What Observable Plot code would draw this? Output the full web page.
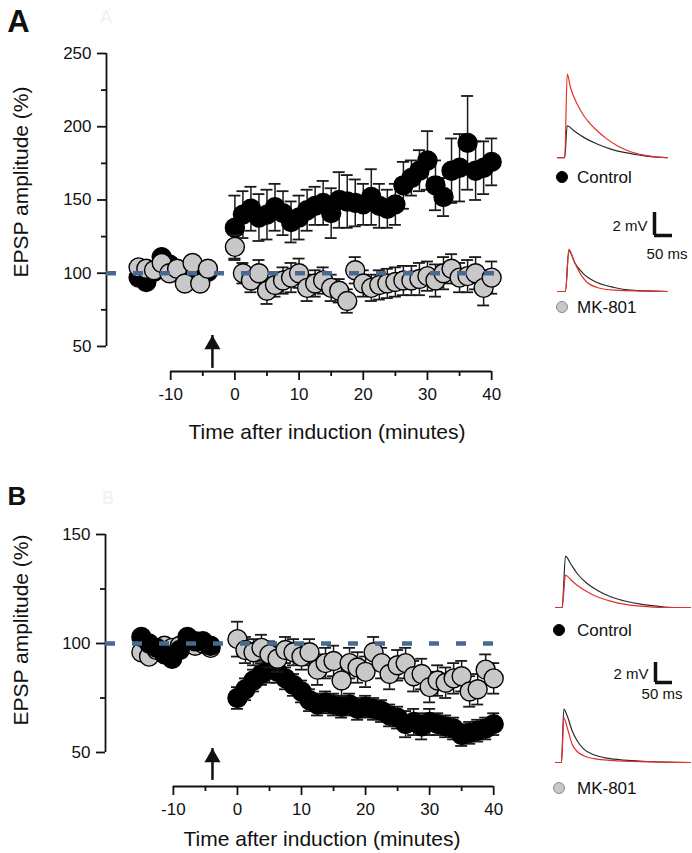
<!DOCTYPE html>
<html><head><meta charset="utf-8">
<script src="https://cdn.jsdelivr.net/npm/d3@7"></script>
<script src="https://cdn.jsdelivr.net/npm/@observablehq/plot@0.6"></script>
<style>
body{margin:0;background:#fff;}
#fig{position:relative;width:692px;height:853px;overflow:hidden;font-family:"Liberation Sans",Arial,Helvetica,sans-serif;color:#111;}
.box{position:absolute;}
.lbl{position:absolute;line-height:1;white-space:nowrap;}
</style></head><body><div id="fig"></div>
<script>
// ---------------- DATA ----------------
const baseTimes = [-15, -13.8, -12.6, -11.4, -10.2, -9, -7.8, -6.6, -5.4, -4.2];
const postTimes = [0, 1.25, 2.5, 3.75, 5, 6.25, 7.5, 8.75, 10, 11.25, 12.5, 13.75, 15, 16.25, 17.5, 18.75, 20,
  21.25, 22.5, 23.75, 25, 26.25, 27.5, 28.75, 30, 31.25, 32.5, 33.75, 35, 36.25, 37.5, 38.75, 40];

// Panel A
const ctrlA_base = [97, 94, 101, 111, 106, 102, 100, 101, 100, 101];
const ctrlA_baseErr = [3, 3, 3, 4, 3, 3, 3, 3, 3, 3];
const mkA_base = [104, 103, 102, 107, 100, 103, 93, 107, 93, 103];
const mkA_baseErr = [4, 4, 4, 4, 4, 4, 4, 4, 4, 4];
const ctrlA_post = [131, 140, 144, 138, 140, 145, 141, 135, 138, 143, 146, 148, 141, 150, 149, 148, 147,
  152, 146, 144, 147, 160, 165, 170, 177, 160, 152, 170, 172, 189, 170, 172, 176];
const ctrlA_postErr = [22, 16, 15, 16, 17, 16, 15, 14, 15, 14, 13, 15, 17, 19, 18, 16, 14,
  19, 15, 13, 14, 16, 12, 14, 20, 17, 13, 22, 23, 32, 20, 18, 16];
const mkA_post = [118, 100, 95, 100, 88, 92, 95, 97, 100, 90, 93, 95, 90, 88, 81, 102, 93,
  90, 92, 93, 94, 95, 95, 96, 98, 95, 100, 103, 97, 98, 100, 90, 97];
const mkA_postErr = [8, 7, 8, 9, 9, 8, 9, 10, 10, 9, 9, 9, 9, 8, 8, 9, 9,
  9, 10, 10, 10, 10, 10, 11, 10, 11, 11, 10, 10, 11, 11, 12, 11];

// Panel B
const ctrlB_base = [103, 100, 98, 95, 93, 97, 103, 101, 101, 99];
const ctrlB_baseErr = [3, 3, 3, 3, 3, 3, 3, 3, 3, 3];
const mkB_base = [96, 94, 97, 99, 98, 99, 100, 99, 100, 98];
const mkB_baseErr = [3, 3, 3, 3, 3, 3, 3, 3, 3, 3];
const ctrlB_post = [75, 79, 83, 86, 88, 87, 84, 81, 78, 74, 72, 73, 72, 71, 72, 70, 71,
  70, 69, 67, 66, 63, 64, 62, 64, 63, 62, 61, 58, 59, 60, 61, 63];
const ctrlB_postErr = [5, 5, 5, 5, 6, 5, 5, 5, 5, 5, 5, 5, 5, 5, 5, 5, 5,
  5, 5, 5, 5, 6, 6, 6, 6, 5, 5, 5, 5, 5, 5, 5, 5];
const mkB_post = [102, 97, 96, 98, 95, 93, 97, 96, 94, 96, 88, 91, 92, 83, 91, 89, 87,
  96, 91, 86, 90, 91, 85, 86, 80, 83, 82, 84, 85, 78, 79, 88, 84];
const mkB_postErr = [8, 6, 6, 6, 6, 6, 6, 6, 6, 6, 7, 7, 7, 7, 7, 7, 7,
  7, 7, 7, 7, 7, 7, 7, 7, 7, 7, 7, 7, 7, 7, 7, 7];

// Axes ticks / reference
const xTicks = [-10, 0, 10, 20, 30, 40];
const xMinor = [-5, 5, 15, 25, 35];
const yTicksA = [50, 100, 150, 200, 250];
const yMinorA = [75, 125, 175, 225];
const yTicksB = [50, 100, 150];
const yMinorB = [75, 125];
const baselinePct = [100];
const inductionA = [{t: -3.5, base: 35, tip: 57.5}];
const inductionB = [{t: -3.9, base: 37.2, tip: 51.8}];

// Example traces (ms, mV)
const trA_ctrl_black = {ms: [0, 20, 26.9, 45.4, 73, 110, 148, 185, 222, 258, 305], mv: [0, 0, 2.78, 2.35, 1.77, 1.19, 0.75, 0.46, 0.26, 0.09, 0]};
const trA_ctrl_red = {ms: [0, 20, 27, 36, 54.6, 73, 91.7, 110, 138, 166, 203, 240, 277, 305], mv: [0, 0, 7.28, 6.11, 4.67, 3.65, 2.93, 2.35, 1.62, 1.04, 0.52, 0.23, 0.06, 0]};
const trA_mk_black = {ms: [0, 22, 31.5, 50, 73, 110, 157, 203, 305], mv: [0, 0, 3.54, 2.38, 1.51, 0.78, 0.35, 0.12, 0]};
const trA_mk_red = {ms: [0, 22, 31.5, 45.4, 64, 82.4, 110, 157, 305], mv: [0, 0, 3.68, 2.67, 1.51, 0.78, 0.35, 0.12, 0]};
const trB_ctrl_black = {ms: [0, 19.6, 29.4, 44, 63.7, 93, 122.5, 162, 201, 250, 299, 348, 397], mv: [0, 0, 5.13, 4.4, 3.4, 2.4, 1.73, 1.07, 0.67, 0.33, 0.13, 0, 0]};
const trB_ctrl_red = {ms: [0, 19.6, 29.4, 44, 63.7, 93, 122.5, 162, 201, 250, 319, 397], mv: [0, 0, 3.23, 2.8, 2.23, 1.57, 1.07, 0.63, 0.33, 0.13, 0, 0]};
const trB_mk_black = {ms: [0, 17.6, 24.5, 34.3, 49, 63.7, 83.3, 113, 152, 201, 270, 397], mv: [0, 0, 5.33, 4.67, 3.17, 2.17, 1.33, 0.77, 0.43, 0.23, 0.1, 0]};
const trB_mk_red = {ms: [0, 17.6, 24.5, 34.3, 49, 63.7, 83.3, 122.5, 181, 397], mv: [0, 0, 4.5, 3.5, 1.83, 1.1, 0.67, 0.33, 0.17, 0]};
const scaleBar = {ms: [0, 50], mv: [0, 2]};

// ---------------- DRAWING ----------------
const FONT = "'Liberation Sans', Arial, Helvetica, sans-serif";
const fig = document.getElementById("fig");
const rows = (times, vals, errs) => times.map((t, i) => ({t, v: vals[i], e: errs[i]}));

function addBox(node, left, top) {
  const d = document.createElement("div");
  d.className = "box";
  d.style.left = left + "px";
  d.style.top = top + "px";
  d.appendChild(node);
  fig.appendChild(d);
}
function label(str, x, y, o = {}) {
  const d = document.createElement("div");
  d.className = "lbl";
  d.textContent = str;
  d.style.left = x + "px";
  d.style.top = y + "px";
  d.style.fontSize = (o.size || 17) + "px";
  d.style.fontWeight = o.weight || "normal";
  d.style.color = o.color || "#111";
  const tx = o.anchor === "start" ? "0" : "-50%";
  d.style.transform = `translate(${tx},-50%)` + (o.rotate ? ` rotate(${o.rotate}deg)` : "");
  fig.appendChild(d);
}
function legendDot(x, y, fill, stroke) {
  const d = document.createElement("div");
  d.style.cssText = `position:absolute;left:${x - 6}px;top:${y - 6}px;width:12px;height:12px;border-radius:50%;box-sizing:border-box;background:${fill};border:1px solid ${stroke};`;
  fig.appendChild(d);
}

function mainPanel(p) {
  const plotW = p.width - p.marginLeft - p.marginRight;
  const pxPerMin = plotW / (p.xDomain[1] - p.xDomain[0]);
  const cap = 6 / pxPerMin;
  const marks = [];
  for (const layer of p.layers) {
    const r = layer.rows;
    marks.push(
      Plot.ruleX(r, {x: "t", y1: d => d.v - d.e, y2: d => d.v + d.e, stroke: "#1a1a1a", strokeWidth: 1.5}),
      Plot.ruleY(r, {y: d => d.v + d.e, x1: d => d.t - cap, x2: d => d.t + cap, stroke: "#1a1a1a", strokeWidth: 1.8}),
      Plot.ruleY(r, {y: d => d.v - d.e, x1: d => d.t - cap, x2: d => d.t + cap, stroke: "#1a1a1a", strokeWidth: 1.8}),
      Plot.dot(r, {x: "t", y: "v", r: 9.5, fill: layer.fill, stroke: "#000", strokeWidth: 1.4})
    );
  }
  const yT = p.yTicks;
  marks.push(
    Plot.ruleX([p.xDomain[0]], {y1: () => yT[0], y2: () => yT[yT.length - 1], stroke: "#111", strokeWidth: 1.8}),
    Plot.ruleY([p.yDomain[0]], {x1: () => xTicks[0], x2: () => xTicks[xTicks.length - 1], stroke: "#111", strokeWidth: 1.8}),
    Plot.axisY(yT, {tickSize: 9, tickPadding: 6, tickFormat: d => String(d), strokeWidth: 1.8, label: null}),
    Plot.axisY(p.yMinor, {tickSize: 5, tickFormat: () => "", strokeWidth: 1.8, label: null}),
    Plot.axisX(xTicks, {tickSize: 9, tickPadding: 7, tickFormat: d => String(d), strokeWidth: 1.8, label: null}),
    Plot.axisX(xMinor, {tickSize: 5, tickFormat: () => "", strokeWidth: 1.8, label: null}),
    Plot.ruleX(p.arrow, {x: "t", y1: "base", y2: "tip", stroke: "#111", strokeWidth: 2.5}),
    Plot.dot(p.arrow, {x: "t", y: "tip", symbol: "triangle", r: 6, fill: "#111", stroke: "none", dy: 9}),
    Plot.ruleY(baselinePct, {stroke: "#4a6894", strokeWidth: 4.5, strokeDasharray: "10,17"})
  );
  const svg = Plot.plot({
    width: p.width, height: p.height,
    marginLeft: p.marginLeft, marginRight: p.marginRight, marginTop: p.marginTop, marginBottom: p.marginBottom,
    x: {domain: p.xDomain},
    y: {domain: p.yDomain},
    style: {fontFamily: FONT, fontSize: "17px", color: "#111", background: "transparent", overflow: "visible"},
    marks
  });
  addBox(svg, p.left, p.top);
}

function tracePlot(traces, o) {
  const m = 2;
  const svg = Plot.plot({
    width: o.msMax * o.pxPerMs + 2 * m, height: o.mvMax * o.pxPerMv + 2 * m,
    margin: m,
    x: {domain: [0, o.msMax], axis: null},
    y: {domain: [0, o.mvMax], axis: null},
    style: {background: "transparent", overflow: "visible"},
    marks: traces.map(tr => Plot.line(tr.data.ms.map((ms, i) => ({ms, mv: tr.data.mv[i]})),
      {x: "ms", y: "mv", stroke: tr.color, strokeWidth: 1.2, curve: "monotone-x"}))
  });
  addBox(svg, o.x0 - m, o.y0 - o.mvMax * o.pxPerMv - m);
}

function scaleBarPlot(o) {
  const m = 3;
  const msMax = scaleBar.ms[1], mvMax = scaleBar.mv[1];
  const svg = Plot.plot({
    width: msMax * o.pxPerMs + 2 * m, height: mvMax * o.pxPerMv + 2 * m,
    margin: m,
    x: {domain: scaleBar.ms, axis: null},
    y: {domain: scaleBar.mv, axis: null},
    style: {background: "transparent", overflow: "visible"},
    marks: [
      Plot.ruleX([scaleBar.ms[0]], {y1: () => scaleBar.mv[0], y2: () => scaleBar.mv[1], stroke: "#111", strokeWidth: 3.5}),
      Plot.ruleY([scaleBar.mv[0]], {x1: () => scaleBar.ms[0], x2: () => scaleBar.ms[1], stroke: "#111", strokeWidth: 3.5})
    ]
  });
  addBox(svg, o.x0 - m, o.y0 - mvMax * o.pxPerMv - m);
}

const RED = "#e2312b", DARK = "#2a2a2a", GRAY = "#c8c8c8";

// Panel A
mainPanel({
  left: 0, top: 0, width: 540, height: 460,
  marginLeft: 106, marginRight: 36, marginTop: 53, marginBottom: 89,
  xDomain: [-20, 42], yDomain: [32.9, 250],
  yTicks: yTicksA, yMinor: yMinorA, arrow: inductionA,
  layers: [
    {rows: rows(baseTimes, ctrlA_base, ctrlA_baseErr), fill: "#000"},
    {rows: rows(baseTimes, mkA_base, mkA_baseErr), fill: GRAY},
    {rows: rows(postTimes, ctrlA_post, ctrlA_postErr), fill: "#000"},
    {rows: rows(postTimes, mkA_post, mkA_postErr), fill: GRAY}
  ]
});
// Panel B
mainPanel({
  left: 0, top: 470, width: 540, height: 383,
  marginLeft: 105, marginRight: 34, marginTop: 64, marginBottom: 67,
  xDomain: [-20.6, 42], yDomain: [34.4, 150],
  yTicks: yTicksB, yMinor: yMinorB, arrow: inductionB,
  layers: [
    {rows: rows(baseTimes, mkB_base, mkB_baseErr), fill: GRAY},
    {rows: rows(baseTimes, ctrlB_base, ctrlB_baseErr), fill: "#000"},
    {rows: rows(postTimes, ctrlB_post, ctrlB_postErr), fill: "#000"},
    {rows: rows(postTimes, mkB_post, mkB_postErr), fill: GRAY}
  ]
});

// Traces
tracePlot([{data: trA_ctrl_black, color: DARK}, {data: trA_ctrl_red, color: RED}],
  {x0: 557, y0: 157, pxPerMs: 0.36, pxPerMv: 11.5, msMax: 305, mvMax: 7.5});
tracePlot([{data: trA_mk_black, color: DARK}, {data: trA_mk_red, color: RED}],
  {x0: 557, y0: 291, pxPerMs: 0.36, pxPerMv: 11.5, msMax: 305, mvMax: 4});
tracePlot([{data: trB_ctrl_black, color: DARK}, {data: trB_ctrl_red, color: RED}],
  {x0: 555, y0: 607, pxPerMs: 0.34, pxPerMv: 10, msMax: 397, mvMax: 5.5});
tracePlot([{data: trB_mk_black, color: DARK}, {data: trB_mk_red, color: RED}],
  {x0: 555, y0: 762, pxPerMs: 0.34, pxPerMv: 10, msMax: 397, mvMax: 5.5});
scaleBarPlot({x0: 654, y0: 235, pxPerMs: 0.36, pxPerMv: 11.5});
scaleBarPlot({x0: 655, y0: 682, pxPerMs: 0.34, pxPerMv: 10});

// Text labels
label("A", 18.5, 21.3, {size: 31, weight: "bold"});
label("A", 106, 17, {size: 18, color: "#f1f1f1"});
label("B", 17, 496, {size: 26, weight: "bold"});
label("B", 108, 498, {size: 18, color: "#f1f1f1"});
label("EPSP amplitude (%)", 20, 182, {size: 21, rotate: -90});
label("EPSP amplitude (%)", 20, 630, {size: 21, rotate: -90});
label("Time after induction (minutes)", 327, 431, {size: 21});
label("Time after induction (minutes)", 322, 838, {size: 21});

legendDot(562, 177, "#000", "#000");
label("Control", 577, 177, {size: 17, anchor: "start"});
legendDot(562, 307, GRAY, "#8a8a8a");
label("MK-801", 577, 307, {size: 17, anchor: "start"});
label("2 mV", 630, 225, {size: 15});
label("50 ms", 667, 253, {size: 15});

legendDot(559, 630, "#000", "#000");
label("Control", 577, 630, {size: 17, anchor: "start"});
legendDot(559, 788, GRAY, "#8a8a8a");
label("MK-801", 577, 788, {size: 17, anchor: "start"});
label("2 mV", 631, 673, {size: 15});
label("50 ms", 662, 693, {size: 15});
</script>
</body></html>
